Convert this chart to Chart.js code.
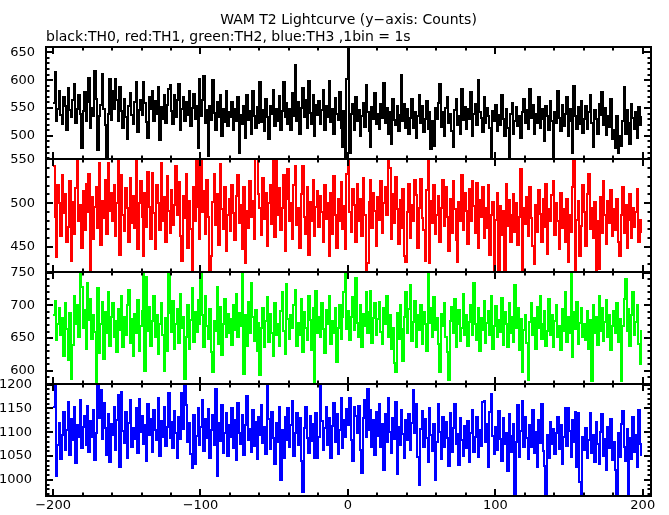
<!DOCTYPE html>
<html><head><meta charset="utf-8">
<script src="https://cdn.jsdelivr.net/npm/chart.js@4"></script>
<style>html,body{margin:0;padding:0;background:#fff}canvas{display:block}</style>
</head><body>
<canvas id="c" width="669" height="515"></canvas>
<script>
// time bins: 1 bin = 1 s, starting at -200 s
const binStart = -200;
const binWidth = 1;

// TH0 (black) counts per bin
const th0 = [
559,614,527,549,580,538,522,569,554,510,586,546,534,565,594,523,549,573,540,479,
545,579,526,560,604,514,550,536,616,567,474,536,556,612,548,519,460,540,603,529,
581,549,602,564,526,588,544,515,567,533,494,554,577,538,522,560,596,507,546,565,
537,597,559,525,497,569,549,580,527,563,540,588,493,552,531,573,523,556,584,592,
544,522,573,534,564,594,511,548,569,526,560,538,581,518,550,576,531,554,479,603,
536,565,607,523,546,463,553,529,600,541,510,561,533,573,500,549,525,580,517,542,
533,561,511,549,526,569,469,538,521,554,496,573,529,544,504,580,536,514,552,523,
596,525,546,509,567,533,494,554,540,583,518,549,527,571,510,544,596,534,559,522,
548,511,577,536,627,526,560,503,550,586,533,565,515,599,541,522,573,499,556,537,
563,521,546,583,510,553,533,598,525,549,504,568,540,529,579,514,480,545,458,603,
660,470,539,558,511,570,527,547,499,536,559,516,592,542,508,480,551,530,577,521,
540,512,558,532,595,524,550,503,543,485,566,528,519,554,508,538,610,526,558,515,
549,504,532,566,515,543,496,536,573,524,553,507,530,562,513,542,477,527,482,550,
531,559,593,516,542,500,550,570,524,539,509,480,546,566,520,535,504,584,528,551,
513,549,530,578,499,539,558,519,601,543,532,507,569,524,550,536,515,458,544,527,
555,509,538,520,573,530,500,549,515,458,540,559,504,526,551,517,535,496,543,566,
524,547,513,584,532,555,503,539,523,570,515,549,530,490,553,535,511,563,526,462,
543,523,580,532,508,555,517,539,570,500,549,527,470,589,536,512,551,521,562,505,
531,553,513,542,574,524,480,546,530,504,558,538,578,520,550,501,535,516,566,494,
511,478,536,470,499,481,527,588,504,546,523,485,557,532,513,542,497,551,520,535
];
// TH1 (red)
const th1 = [
543,484,438,521,500,462,532,489,511,456,473,525,434,501,465,517,553,479,498,449,
514,469,522,490,533,418,507,459,496,519,472,546,452,503,483,526,465,546,491,512,
480,521,462,500,558,441,532,487,468,517,494,456,529,477,508,472,552,448,500,525,
484,440,512,473,536,496,459,535,489,447,521,500,469,546,480,507,455,531,491,466,
515,475,498,542,487,524,462,434,508,483,533,449,503,470,418,519,479,556,496,459,
553,490,514,465,526,484,420,440,501,533,475,511,452,545,493,470,518,445,486,505,
468,521,489,458,508,532,477,498,447,518,432,491,472,525,484,503,459,556,552,511,
494,463,529,482,512,451,500,521,476,558,461,560,487,517,469,494,532,445,505,539,
479,500,459,521,542,475,494,449,511,542,484,465,518,441,501,480,526,462,496,514,
473,508,490,455,521,482,500,440,512,465,531,487,449,505,480,524,470,497,448,533,
560,490,467,516,498,455,522,480,505,462,529,487,423,432,501,527,472,512,491,451,
507,481,525,466,500,519,486,554,540,459,511,477,530,493,453,504,472,516,439,433,
490,522,460,498,479,527,509,449,494,528,483,469,434,515,555,431,502,477,521,465,
487,508,455,495,527,474,519,484,445,505,466,525,493,458,433,501,480,532,469,512,
491,453,516,479,525,497,466,523,449,504,484,518,460,494,472,521,441,487,501,424,
481,512,422,497,463,491,424,522,474,504,456,487,511,467,500,452,484,539,423,494,
476,507,462,519,483,451,430,498,467,515,488,455,505,473,522,442,493,479,509,525,
463,500,480,448,512,472,493,455,505,433,487,467,518,558,424,481,502,440,474,521,
490,451,511,533,470,495,460,501,424,480,425,507,466,525,486,453,502,477,515,462,
493,469,505,456,440,486,518,466,498,449,481,511,460,494,473,490,516,455,481,466
];
// TH2 (green)
const th2 = [
686,707,647,671,696,655,680,623,704,664,617,689,587,640,715,671,700,652,753,729,
666,693,633,734,678,710,648,685,659,582,727,627,672,706,618,690,658,721,638,682,
703,651,676,629,694,662,714,636,682,654,700,723,643,679,622,687,657,708,630,669,
692,753,599,744,661,697,638,676,715,651,686,626,671,703,655,600,680,630,752,689,
659,707,634,672,694,643,717,665,682,587,652,701,633,678,727,644,690,659,708,671,
752,685,636,714,668,648,694,629,598,676,661,729,641,697,624,672,710,651,687,657,
679,640,700,662,717,652,689,669,756,595,685,638,706,658,735,682,645,693,630,673,
593,666,696,636,676,713,644,687,657,623,703,654,671,638,692,720,661,626,733,679,
648,685,665,700,724,638,673,655,710,629,690,666,647,715,678,631,696,582,722,657,
682,651,703,664,627,693,671,714,641,676,657,696,613,666,701,648,683,720,754,664,
692,647,682,713,662,742,673,651,700,637,687,668,721,658,690,722,643,680,703,655,
679,706,659,641,696,672,715,652,685,634,666,612,598,689,648,700,664,615,682,721,
658,694,732,645,675,707,636,685,662,700,641,690,671,630,756,673,696,651,713,662,
680,641,598,687,668,703,651,629,585,676,697,657,710,636,672,693,645,665,718,654,
686,638,675,701,655,735,671,647,696,630,680,662,707,643,673,692,654,714,633,669,
699,651,678,659,711,640,690,672,636,703,657,683,644,731,666,696,631,679,598,662,
686,643,585,675,704,655,680,633,697,665,715,648,672,692,638,661,710,654,685,636,
676,700,651,669,631,694,661,721,644,682,657,750,621,690,664,706,641,673,696,652,
671,647,692,634,678,584,701,658,683,640,715,661,696,645,675,708,651,686,631,668,
692,657,704,644,679,584,669,710,740,661,694,638,685,720,654,675,700,641,611,662
];
// TH3 (blue)
const th3 = [
1154,1201,1009,1073,1120,1043,1095,1143,1063,1104,1164,1053,1127,1083,1153,1036,1115,1091,1168,1067,
1111,1134,1074,1155,1059,1123,1090,1147,1042,1098,1204,1129,1188,1085,1161,1108,1053,1139,1037,1118,
1095,1154,1063,1125,1178,1028,1184,1102,1078,1143,1045,1119,1167,1069,1109,1085,1150,1057,1170,1101,
1134,1076,1116,1039,1160,1094,1127,1059,1147,1104,1083,1171,1050,1123,1091,1154,1071,1112,1182,1088,
1122,1067,1144,1098,1045,1133,1085,1183,1106,1199,1158,1080,1119,1055,1025,1137,1034,1092,1151,1073,
1111,1168,1060,1127,1088,1148,1045,1104,1136,1073,1192,1008,1119,1081,1158,1057,1099,1140,1050,1115,
1091,1150,1067,1126,1041,1162,1099,1076,1137,1052,1116,1176,1084,1106,1059,1146,1071,1122,1043,1132,
1095,1158,1077,1112,1055,1198,1127,1064,1143,1088,1034,1120,1080,1154,1000,1104,1046,1133,1084,1151,
1069,1115,1165,1050,1099,1140,1074,1129,1039,975,1108,1153,1087,1056,1134,1081,1118,1045,1141,1045,
1091,1205,1123,1062,1108,1154,1074,1130,1046,1113,1162,1080,1139,1055,1104,1171,1067,1125,1090,1148,
1115,1172,1083,1040,1154,1135,1098,1156,1062,1015,1129,1167,1089,1192,1105,1147,1070,1126,1052,1142,
1093,1159,1068,1118,1021,1139,1080,1171,1100,1056,1131,1086,1163,1013,1111,1073,1146,1096,1045,1126,
1083,1138,1062,1119,1188,1098,1160,1049,990,1107,1145,1069,1128,1087,1037,1152,1094,1061,1117,1000,
1079,1160,1101,1044,1133,1070,1122,1087,1030,1140,1058,1110,1160,1075,1097,1031,1129,1084,1051,1114,
1066,1124,1037,1098,1146,1059,1089,1133,1047,1105,1072,1163,1165,1080,1118,1028,1142,1180,1093,1054,
1111,1063,1145,1086,1040,1129,1076,1098,1019,1138,1058,1093,1118,970,1080,1157,1049,1103,1166,1069,
1132,1087,1044,1115,1068,1147,1056,1100,1027,1125,1077,1160,1061,1030,970,1094,1045,1121,1075,1107,
1054,1098,1133,1065,1115,1034,1089,1152,1072,1152,1103,1049,1126,1080,1143,1027,1140,995,968,1090,
1063,1108,1045,1083,1140,1056,1094,1037,1121,1075,1034,1101,1138,1051,1086,1021,1112,1066,1128,1041,
1080,1020,970,1098,1049,1118,1145,1069,1039,1107,968,1087,1044,1133,1059,1094,1026,1146,1075,1051
];

const seriesNames = ['TH0', 'TH1', 'TH2', 'TH3'];
const seriesColors = ['#000000', '#ff0000', '#00ff00', '#0000ff'];
const seriesValues = [th0, th1, th2, th3];

// tick labels
const xTickValues = [-200, -100, 0, 100, 200];
const yTickValues = [
  [500, 550, 600, 650],
  [450, 500, 550],
  [600, 650, 700, 750],
  [1000, 1050, 1100, 1150, 1200]
];
const yRanges = [[458, 659.6], [421.8, 550.2], [580, 752], [966, 1202]];
const xRange = [-204.8, 205.6];

const titleText = 'WAM T2 Lightcurve (y\u2212axis: Counts)';
const subtitleText = 'black:TH0, red:TH1, green:TH2, blue:TH3 ,1bin = 1s';

const FONT = "'DejaVu Sans', Verdana, sans-serif";
const FSIZE = 13;
const yIds = ['y0', 'y1', 'y2', 'y3'];

const framePlugin = {
  id: 'framePlugin',
  // snap the library-computed pixel positions to the device pixel grid (crisp steps)
  afterDatasetsUpdate(chart) {
    chart.data.datasets.forEach((ds, i) => {
      const meta = chart.getDatasetMeta(i);
      meta.data.forEach(p => { p.x = Math.round(p.x); p.y = Math.round(p.y); });
    });
  },
  beforeDatasetDraw(chart, args) {
    const xs = args.meta.xScale, ys = args.meta.yScale, ctx = chart.ctx;
    ctx.save();
    ctx.beginPath();
    ctx.rect(xs.left, ys.top, xs.right - xs.left, ys.bottom - ys.top);
    ctx.clip();
  },
  afterDatasetDraw(chart) { chart.ctx.restore(); },
  afterDatasetsDraw(chart) {
    const ctx = chart.ctx, xs = chart.scales.x;
    ctx.save();
    ctx.strokeStyle = '#000';
    ctx.lineWidth = 2;
    for (const id of yIds) {
      const ys = chart.scales[id];
      const L = Math.round(xs.left), R = Math.round(xs.right), T = Math.round(ys.top), B = Math.round(ys.bottom);
      ctx.strokeRect(L, T, R - L, B - T);
      ctx.beginPath();
      for (let v = Math.ceil(ys.min / 10) * 10; v <= ys.max; v += 10) {
        const p = Math.round(ys.getPixelForValue(v));
        const len = v % 50 === 0 ? 7 : 3.5;
        ctx.moveTo(L, p); ctx.lineTo(L + len, p);
        ctx.moveTo(R, p); ctx.lineTo(R - len, p);
      }
      for (let v = Math.ceil(xs.min / 20) * 20; v <= xs.max; v += 20) {
        const p = Math.round(xs.getPixelForValue(v));
        const len = v % 100 === 0 ? 7 : 3.5;
        ctx.moveTo(p, T); ctx.lineTo(p, T + len);
        ctx.moveTo(p, B); ctx.lineTo(p, B - len);
      }
      ctx.stroke();
    }
    ctx.restore();
  }
};

const datasets = seriesValues.map((vals, k) => ({
  label: seriesNames[k],
  data: vals.map((v, i) => ({ x: binStart + i * binWidth, y: v })),
  yAxisID: yIds[k],
  borderColor: seriesColors[k],
  borderWidth: 2,
  pointRadius: 0,
  stepped: 'before',
  fill: false
}));

const scales = {
  x: {
    type: 'linear', position: 'bottom', min: xRange[0], max: xRange[1],
    grid: { display: false, drawTicks: false }, border: { display: false },
    afterBuildTicks: s => { s.ticks = xTickValues.map(v => ({ value: v })); },
    afterFit: s => { s.height = 19; s.paddingLeft = 0; s.paddingRight = 0; },
    ticks: {
      color: '#000', font: { size: FSIZE, family: FONT }, padding: 2,
      maxRotation: 0, autoSkip: false,
      callback: v => String(v).replace('-', '\u2212')
    }
  }
};
yIds.forEach((id, k) => {
  scales[id] = {
    type: 'linear', position: 'left', stack: 'panels', stackWeight: 1, weight: 4 - k,
    min: yRanges[k][0], max: yRanges[k][1],
    grid: { display: false, drawTicks: false }, border: { display: false },
    afterBuildTicks: s => { s.ticks = yTickValues[k].map(v => ({ value: v })); },
    afterFit: s => { s.width = 46; s.paddingTop = 0; s.paddingBottom = 0; },
    ticks: {
      color: '#000', font: { size: FSIZE, family: FONT }, padding: k === 3 ? 14 : 11, autoSkip: false,
      callback: v => String(v)
    }
  };
});

new Chart(document.getElementById('c'), {
  type: 'line',
  data: { datasets },
  options: {
    responsive: false, animation: false, devicePixelRatio: 1,
    layout: { padding: { left: 0, right: 18, top: 0, bottom: 0 } },
    plugins: {
      legend: { display: false },
      tooltip: { enabled: false },
      title: {
        display: true, text: titleText, fullSize: false, align: 'center', color: '#000',
        font: { size: 14, weight: 'normal', family: FONT }, padding: { top: 12, bottom: 0 }
      },
      subtitle: {
        display: true, text: subtitleText, fullSize: false, align: 'start', color: '#000',
        font: { size: 14, weight: 'normal', family: FONT }, padding: { top: 0, bottom: 1.4 }
      }
    },
    scales
  },
  plugins: [framePlugin]
});
</script>
</body></html>
